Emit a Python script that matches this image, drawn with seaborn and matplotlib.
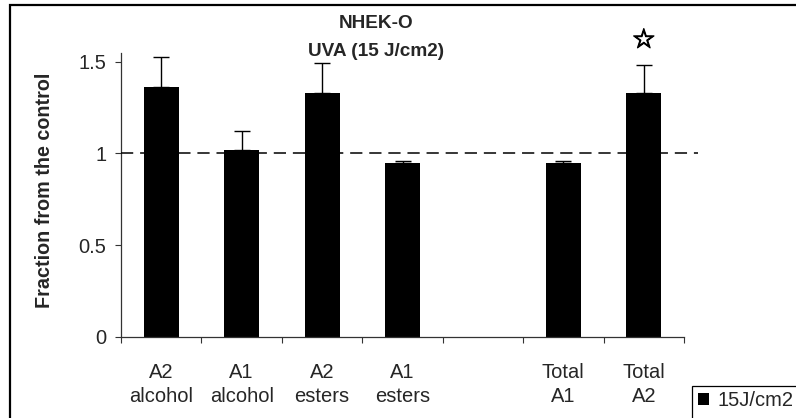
import numpy as np
import pandas as pd
import matplotlib
matplotlib.use("Agg")
import matplotlib.pyplot as plt
import matplotlib.patheffects as pe
from matplotlib.patches import Rectangle
import seaborn as sns

# Data: fraction of the control after UVA (15 J/cm2) in NHEK-O cells
categories = ["A2\nalcohol", "A1\nalcohol", "A2\nesters", "A1\nesters", " ", "Total\nA1", "Total\nA2"]
values = [1.365, 1.02, 1.33, 0.945, np.nan, 0.945, 1.33]
errors = [0.16, 0.10, 0.165, 0.015, np.nan, 0.015, 0.155]
series_name = "15J/cm2"
title_lines = ["NHEK-O", "UVA (15 J/cm2)"]
y_label = "Fraction from the control"
y_ticks = [0, 0.5, 1, 1.5]
y_tick_labels = ["0", "0.5", "1", "1.5"]
significant = "Total\nA2"

df = pd.DataFrame({"category": categories, "value": values, "err": errors})

sns.set_style("white")
plt.rcParams["font.family"] = ["Liberation Sans", "DejaVu Sans"]

W, H = 796, 418
fig = plt.figure(figsize=(W / 100, H / 100), dpi=100)

# axes placement in pixel terms
left, right, bottom_px, top_px = 121, 684, 336.7, 52.6
ax = fig.add_axes([left / W, 1 - bottom_px / H, (right - left) / W, (bottom_px - top_px) / H])

sns.barplot(data=df, x="category", y="value", order=categories, color="black",
            width=0.435, errorbar=None, saturation=1, ax=ax, label=series_name,
            edgecolor="black", linewidth=0)

xpos = np.arange(len(categories))
v = np.array(values, dtype=float)
e = np.array(errors, dtype=float)
ax.errorbar(xpos, v, yerr=[np.zeros_like(e), e], fmt="none", ecolor="black",
            elinewidth=1, capsize=6, capthick=1)

ax.set_xlim(-0.5, len(categories) - 0.5)
ax.set_ylim(0, 1.55)

# reference line at the control level
ax.plot([-0.5, 6.67], [1, 1], color="black", lw=1.1, dashes=(8, 4.5), clip_on=False, zorder=5)

# significance marker
sig_idx = categories.index(significant)
ax.text(sig_idx, 1.615, "☆", ha="center", va="center", fontsize=19,
        family=["DejaVu Sans"], color="black",
        path_effects=[pe.withStroke(linewidth=0.9, foreground="black")])

# axes styling
for s in ["top", "right"]:
    ax.spines[s].set_visible(False)
for s in ["left", "bottom"]:
    ax.spines[s].set_color("#333333")
    ax.spines[s].set_linewidth(0.9)

ax.set_yticks(y_ticks)
ax.set_yticklabels(y_tick_labels, fontsize=14.5)
ax.tick_params(axis="y", direction="out", length=4.5, width=0.8, color="#333333", pad=6, left=True)

ax.set_xticks(np.arange(-0.5, len(categories), 1.0))
ax.set_xticklabels([])
ax.tick_params(axis="x", which="major", direction="out", length=4.5, width=0.8, color="#333333", bottom=True)
ax.set_xticks(xpos, minor=True)
ax.set_xticklabels(categories, minor=True, fontsize=14.5, linespacing=1.3)
ax.tick_params(axis="x", which="minor", length=0, pad=19)

ax.set_xlabel("")
ax.set_ylabel(y_label, fontsize=14.2, fontweight="bold")
ax.yaxis.set_label_coords(-77 / (right - left), (bottom_px - 190.5) / (bottom_px - top_px))
ax.yaxis.label.set_va("center")

# two-line title
fig.text(376 / W, 1 - 23 / H, title_lines[0], ha="center", va="center", fontsize=13.7, fontweight="bold")
fig.text(376 / W, 1 - 51 / H, title_lines[1], ha="center", va="center", fontsize=13.7, fontweight="bold")

# chart frame
fig.patches.append(Rectangle((10 / W, -0.1), 1.2, 1 - 5 / H + 0.1, transform=fig.transFigure,
                             fill=False, edgecolor="black", linewidth=1.6, clip_on=False))

# legend box
fig.patches.append(Rectangle((692 / W, -0.1), 0.3, 1 - 386 / H + 0.1, transform=fig.transFigure,
                             fill=False, edgecolor="black", linewidth=0.9, clip_on=False))
handles, labels = ax.get_legend_handles_labels()
if ax.get_legend() is not None:
    ax.get_legend().remove()
fig.legend(handles[:1], [series_name], loc="center left", bbox_to_anchor=(698 / W, 1 - 401 / H),
           frameon=False, fontsize=14.5, handlelength=0.55, handleheight=0.55,
           handletextpad=0.4, borderpad=0, borderaxespad=0)

fig.savefig("out.png", dpi=100)
